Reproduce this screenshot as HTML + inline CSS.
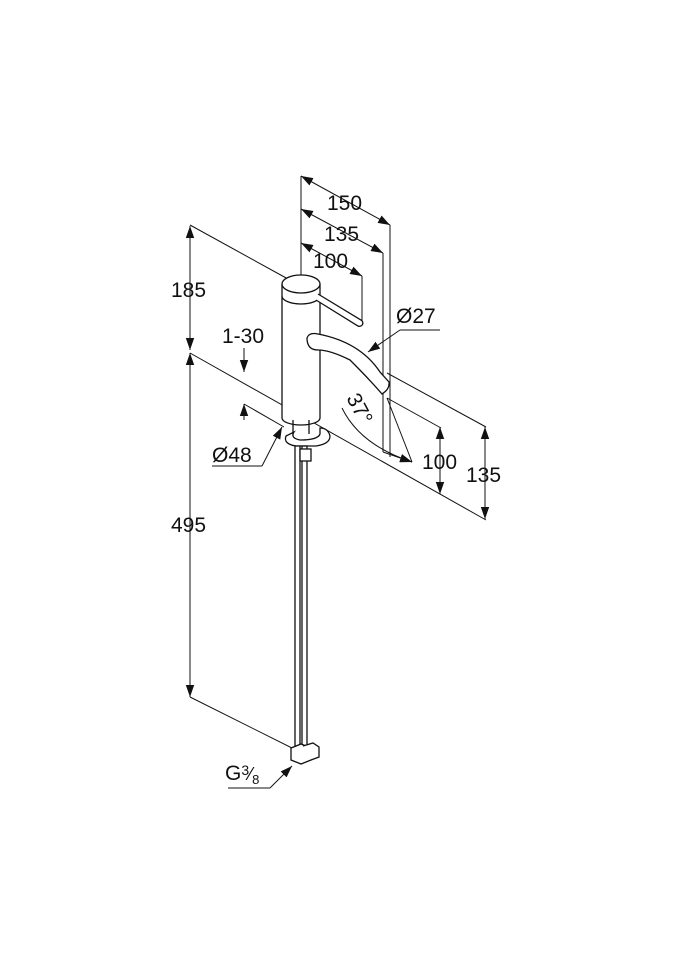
<!DOCTYPE html>
<html><head><meta charset="utf-8"><style>
html,body{margin:0;padding:0;background:#fff;}
svg{display:block;}
text{font-family:"Liberation Sans",sans-serif;font-size:21px;fill:#111;}
</style></head><body>
<svg width="675" height="960" viewBox="0 0 675 960" xmlns="http://www.w3.org/2000/svg">
<defs>
<marker id="a" viewBox="0 0 10 10" refX="10" refY="5" markerWidth="12" markerHeight="12" markerUnits="userSpaceOnUse" orient="auto-start-reverse"><path d="M0,1.5 L10,5 L0,8.5 z" fill="#111"/></marker>
</defs>
<g stroke="#111" stroke-width="1" fill="none">
<line x1="190" y1="225" x2="288" y2="279"/>
<line x1="190" y1="226" x2="190" y2="350" marker-start="url(#a)" marker-end="url(#a)"/>
<line x1="190" y1="353" x2="190" y2="697" marker-start="url(#a)" marker-end="url(#a)"/>
<line x1="190" y1="353" x2="486" y2="520"/>
<line x1="190" y1="697" x2="300" y2="752"/>
<line x1="244" y1="348" x2="244" y2="372" marker-end="url(#a)"/>
<line x1="244" y1="420" x2="244" y2="404" marker-end="url(#a)"/>
<line x1="244" y1="404" x2="284" y2="427"/>
<line x1="301" y1="176" x2="301" y2="310"/>
<line x1="301" y1="176" x2="390" y2="225" marker-start="url(#a)" marker-end="url(#a)"/>
<line x1="390" y1="225" x2="390" y2="457"/>
<line x1="301" y1="209" x2="383" y2="253" marker-start="url(#a)" marker-end="url(#a)"/>
<line x1="383" y1="253" x2="383" y2="452"/>
<line x1="301" y1="243" x2="362" y2="276" marker-start="url(#a)" marker-end="url(#a)"/>
<line x1="362" y1="276" x2="362" y2="325"/>
<line x1="387" y1="373" x2="486" y2="427"/>
<line x1="387" y1="398" x2="441" y2="428"/>
<line x1="440" y1="427" x2="440" y2="494" marker-start="url(#a)" marker-end="url(#a)"/>
<line x1="485" y1="427" x2="485" y2="519" marker-start="url(#a)" marker-end="url(#a)"/>
<line x1="387" y1="398" x2="412" y2="462"/>
<path d="M342,408 Q360,445 412,462" marker-end="url(#a)"/>
<line x1="383" y1="452" x2="412" y2="462" marker-end="url(#a)"/>
<polyline points="440,330 400,330"/>
<line x1="400" y1="330" x2="368" y2="352" marker-end="url(#a)"/>
<polyline points="212,466 262,466"/>
<line x1="262" y1="466" x2="282" y2="427" marker-end="url(#a)"/>
<polyline points="228,788 270,788"/>
<line x1="270" y1="788" x2="292" y2="766" marker-end="url(#a)"/>
</g>
<g stroke="#111" stroke-width="1.3" fill="#fff">
<path d="M282,284 L282,418 A19,7 0 0 0 320,418 L320,284"/>
<path d="M282,296 A19,8 0 0 0 320,296"/>
<ellipse cx="301" cy="284" rx="19" ry="9"/>
<path d="M316,300 L358,326 A3,3 0 0 0 361,320 L318,294"/>
<path d="M307,338 Q309,332 318,334 Q360,342 380,372 L389,382 Q390,389 382,394 Q370,380 350,360 Q330,350 318,350 Q307,350 307,338 Z"/>
<path d="M293,420 L293,434 M309,420 L309,434"/>
<path d="M286,436 Q283,444 296,446 L316,446 Q330,444 330,436 Q328,428 320,428 L320,434 Q318,440 300,440 Q290,438 294,432 Z"/>
<rect x="295" y="446" width="5" height="300"/>
<rect x="302" y="446" width="5" height="300"/>
<rect x="300" y="449" width="11" height="12"/>
<path d="M291,748 L301,744 L311,748 L311,760 L301,764 L291,760 Z"/>
<path d="M303,746 L313,743 L319,747 L319,757 L311,760"/>
</g>
<text x="171" y="297">185</text>
<text x="171" y="532">495</text>
<text x="222" y="343">1-30</text>
<text x="327" y="210">150</text>
<text x="324" y="241">135</text>
<text x="313" y="268">100</text>
<text x="396" y="323">Ø27</text>
<text x="212" y="462">Ø48</text>
<text x="422" y="469">100</text>
<text x="466" y="482">135</text>
<text x="0" y="0" transform="translate(346,398) rotate(62)">37°</text>
<text x="225" y="780">G<tspan font-size="14" dy="-5">3</tspan><tspan font-size="18" dy="5">⁄</tspan><tspan font-size="13" dy="4">8</tspan></text>
</svg>
</body></html>
